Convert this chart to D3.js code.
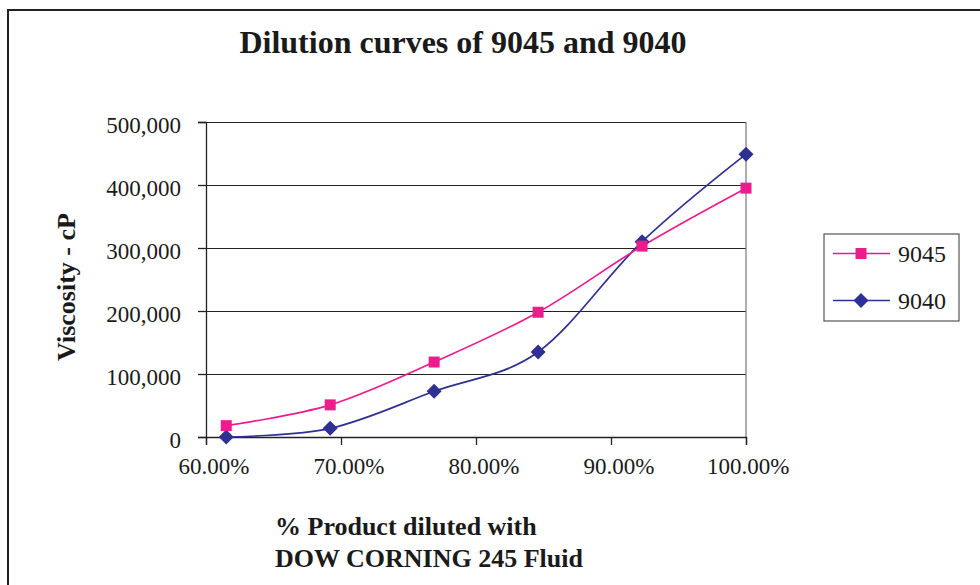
<!DOCTYPE html>
<html>
<head>
<meta charset="utf-8">
<script src="https://cdn.jsdelivr.net/npm/d3@7"></script>
<style>
  html, body { margin: 0; padding: 0; background: #fff; }
  svg { display: block; }
  svg text { font-family: "Liberation Serif", "Times New Roman", serif; }
</style>
</head>
<body>
<svg id="chart" width="980" height="585"></svg>
<script>
// ---- data ----
const xValues = [0.615, 0.692, 0.769, 0.846, 0.923, 1.0];
const series9045 = [18000, 51000, 119000, 198000, 303000, 395000];
const series9040 = [0, 13800, 72500, 135000, 310000, 449000];
const seriesNames = ["9045", "9040"];
const xTicks = [0.6, 0.7, 0.8, 0.9, 1.0];
const yTicks = [0, 100000, 200000, 300000, 400000, 500000];
const titleText = "Dilution curves of 9045 and 9040";
const yTitle = "Viscosity - cP";
const xTitleLines = ["% Product diluted with", "DOW CORNING 245 Fluid"];

// ---- layout ----
const FONT = '"Liberation Serif", "Times New Roman", serif';
const svg = d3.select("#chart");
const plot = { left: 206, right: 746, top: 122, bottom: 437 };
const pink = "#EC1C8C";
const navy = "#2E3192";
const ink = "#1a1a1a";

const x = d3.scaleLinear().domain([0.6, 1.0]).range([plot.left, plot.right]);
const y = d3.scaleLinear().domain([0, 500000]).range([plot.bottom, plot.top]);

// outer chart border (left and top visible)
svg.append("path")
  .attr("d", `M8,600 L8,10 L1000,10`)
  .attr("fill", "none").attr("stroke", "#222").attr("stroke-width", 2);

// title
svg.append("text")
  .attr("x", 463).attr("y", 53)
  .attr("text-anchor", "middle")
  .style("font-family", FONT)
  .attr("font-size", 32).attr("font-weight", "bold").attr("fill", ink)
  .text(titleText);

// gridlines
svg.append("g").selectAll("line").data(yTicks.filter(d => d > 0)).join("line")
  .attr("x1", plot.left).attr("x2", plot.right)
  .attr("y1", d => Math.round(y(d)) + 0.5).attr("y2", d => Math.round(y(d)) + 0.5)
  .attr("stroke", "#222").attr("stroke-width", 1.2);

// right plot border
svg.append("line")
  .attr("x1", plot.right).attr("x2", plot.right)
  .attr("y1", plot.top).attr("y2", plot.bottom)
  .attr("stroke", "#777").attr("stroke-width", 1.2);

// y axis
const yAxis = svg.append("g")
  .attr("transform", `translate(${plot.left},0)`)
  .call(d3.axisLeft(y).tickValues(yTicks).tickSize(8).tickPadding(17)
    .tickFormat(d3.format(",")));
yAxis.selectAll("path, line").attr("stroke", "#222").attr("stroke-width", 1.3);
yAxis.selectAll("text")
  .style("font-family", FONT)
  .attr("font-size", 23).attr("fill", ink)
  .attr("y", 3.5);

// x axis
const xAxis = svg.append("g")
  .attr("transform", `translate(0,${plot.bottom})`)
  .call(d3.axisBottom(x).tickValues(xTicks).tickSize(8).tickPadding(13)
    .tickFormat(d3.format(".2%")));
xAxis.selectAll("path, line").attr("stroke", "#222").attr("stroke-width", 1.3);
xAxis.selectAll("text")
  .style("font-family", FONT)
  .attr("font-size", 23).attr("fill", ink)
  .attr("text-anchor", "end")
  .attr("x", 43);

// axis titles
svg.append("text")
  .attr("transform", `translate(75,287) rotate(-90)`)
  .attr("text-anchor", "middle")
  .style("font-family", FONT)
  .attr("font-size", 26).attr("font-weight", "bold").attr("fill", ink)
  .text(yTitle);

svg.append("g").selectAll("text").data(xTitleLines).join("text")
  .attr("x", 275).attr("y", (d, i) => 535 + i * 31.7)
  .style("font-family", FONT)
  .attr("font-size", 26).attr("font-weight", "bold").attr("fill", ink)
  .text(d => d);

// lines
const line = d3.line()
  .x(d => x(d[0])).y(d => y(d[1]))
  .curve(d3.curveCardinal.tension(0));

const data9045 = xValues.map((v, i) => [v, series9045[i]]);
const data9040 = xValues.map((v, i) => [v, series9040[i]]);

svg.append("path").datum(data9040)
  .attr("d", line).attr("fill", "none")
  .attr("stroke", navy).attr("stroke-width", 1.7);
svg.append("path").datum(data9045)
  .attr("d", line).attr("fill", "none")
  .attr("stroke", pink).attr("stroke-width", 1.7);

const squareSym = d3.symbol().type(d3.symbolSquare).size(121);
const diamondPath = s => `M0,${-s}L${s},0L0,${s}L${-s},0Z`;

svg.append("g").selectAll("path").data(data9040).join("path")
  .attr("transform", d => `translate(${x(d[0])},${y(d[1])})`)
  .attr("d", diamondPath(7.5)).attr("fill", navy);

svg.append("g").selectAll("path").data(data9045).join("path")
  .attr("transform", d => `translate(${x(d[0])},${y(d[1])})`)
  .attr("d", squareSym).attr("fill", pink);

// legend
const lg = svg.append("g");
lg.append("rect")
  .attr("x", 824).attr("y", 234).attr("width", 135).attr("height", 87)
  .attr("fill", "#fff").attr("stroke", "#555").attr("stroke-width", 1.2);
const legendItems = [
  { name: seriesNames[0], color: pink, shape: "square", yPos: 253.5 },
  { name: seriesNames[1], color: navy, shape: "diamond", yPos: 300.5 }
];
legendItems.forEach(it => {
  lg.append("line")
    .attr("x1", 833).attr("x2", 890).attr("y1", it.yPos).attr("y2", it.yPos)
    .attr("stroke", it.color).attr("stroke-width", 1.7);
  if (it.shape === "square") {
    lg.append("path").attr("transform", `translate(861,${it.yPos})`)
      .attr("d", squareSym).attr("fill", it.color);
  } else {
    lg.append("path").attr("transform", `translate(861,${it.yPos})`)
      .attr("d", diamondPath(7.5)).attr("fill", it.color);
  }
  lg.append("text")
    .attr("x", 898).attr("y", it.yPos + 8.5)
    .style("font-family", FONT)
    .attr("font-size", 24).attr("fill", ink)
    .text(it.name);
});
</script>
</body>
</html>
